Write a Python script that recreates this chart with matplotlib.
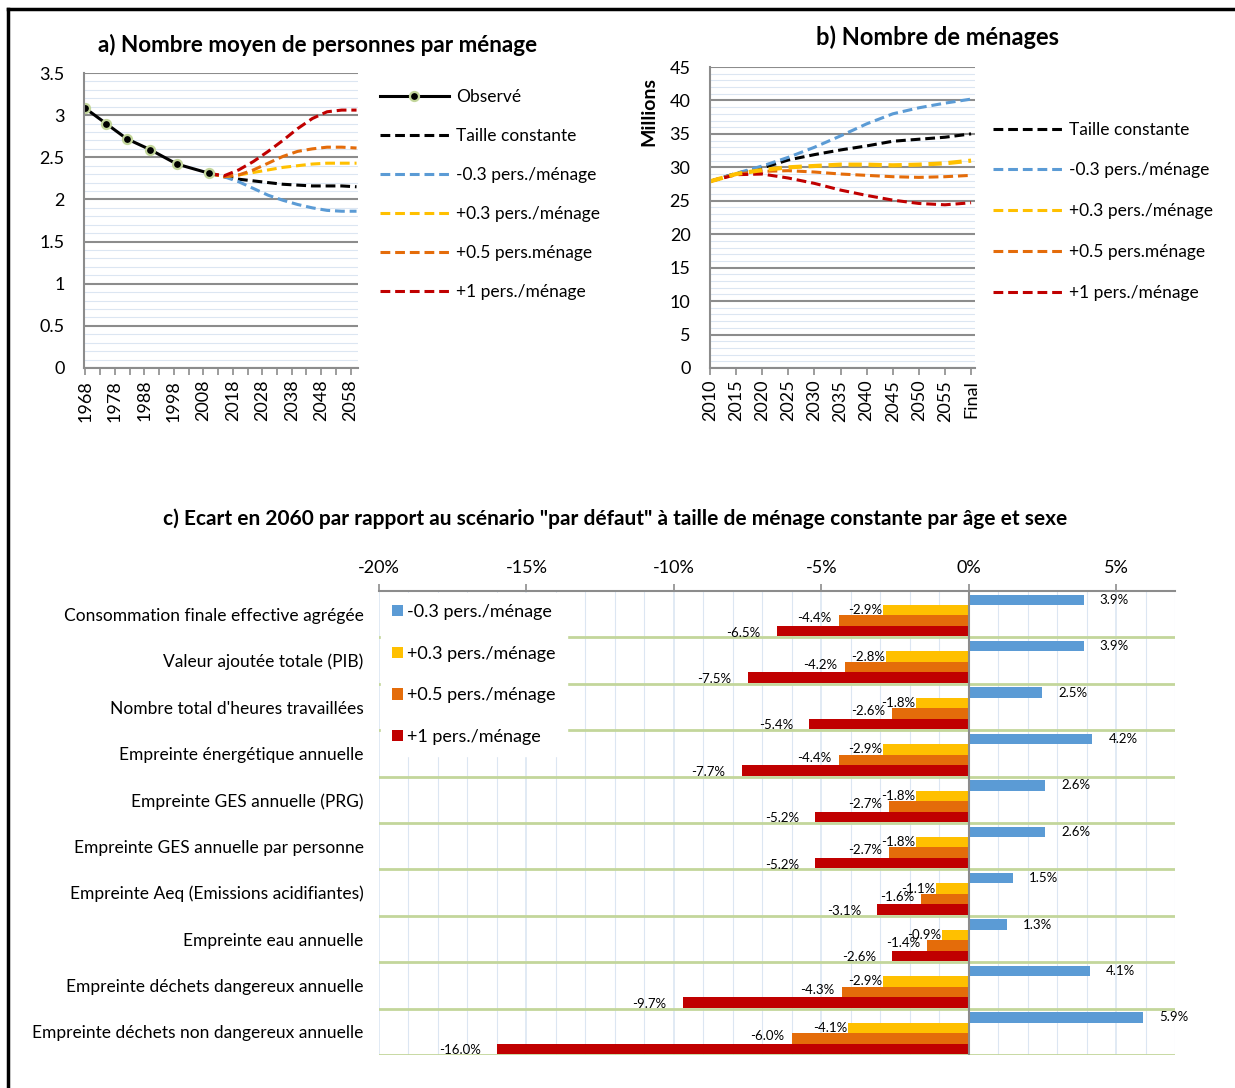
import numpy as np
import matplotlib
matplotlib.use('Agg')
import matplotlib.pyplot as plt
from matplotlib.lines import Line2D
from matplotlib.ticker import MultipleLocator, FuncFormatter

plt.rcParams['font.family'] = ['Lato', 'DejaVu Sans']

W, H = 1235, 1088

# ---- a) nombre moyen de personnes par ménage
obs_years = [1968, 1975, 1982, 1990, 1999, 2010]
obs_values = [3.08, 2.90, 2.72, 2.59, 2.42, 2.31]

proj_years = [2010, 2015, 2020, 2025, 2030, 2035, 2040, 2045, 2050, 2055, 2060]
size_const = [2.31, 2.27, 2.24, 2.22, 2.20, 2.18, 2.17, 2.16, 2.16, 2.16, 2.15]
size_m03 = [2.31, 2.27, 2.21, 2.13, 2.05, 1.99, 1.94, 1.90, 1.87, 1.86, 1.86]
size_p03 = [2.31, 2.27, 2.29, 2.32, 2.35, 2.38, 2.40, 2.42, 2.43, 2.43, 2.43]
size_p05 = [2.31, 2.27, 2.29, 2.35, 2.43, 2.51, 2.57, 2.60, 2.62, 2.62, 2.61]
size_p1 = [2.31, 2.28, 2.35, 2.45, 2.57, 2.70, 2.84, 2.96, 3.04, 3.06, 3.06]

# ---- b) nombre de ménages (millions)
hh_labels = ['2010', '2015', '2020', '2025', '2030', '2035', '2040', '2045', '2050', '2055', 'Final']
hh_const = [27.9, 29.1, 29.9, 31.1, 31.9, 32.6, 33.2, 33.9, 34.2, 34.5, 35.0]
hh_m03 = [27.9, 29.1, 30.2, 31.5, 33.0, 34.7, 36.5, 38.0, 38.9, 39.6, 40.2]
hh_p03 = [27.9, 29.0, 29.6, 30.0, 30.2, 30.4, 30.4, 30.3, 30.4, 30.6, 31.0]
hh_p05 = [27.9, 29.0, 29.4, 29.5, 29.3, 29.0, 28.8, 28.6, 28.5, 28.6, 28.8]
hh_p1 = [27.9, 28.9, 29.0, 28.4, 27.6, 26.6, 25.8, 25.1, 24.6, 24.4, 24.7]

# ---- c) écart en 2060 (%)
categories = ['Consommation finale effective agrégée', 'Valeur ajoutée totale (PIB)',
              "Nombre total d'heures travaillées", 'Empreinte énergétique annuelle',
              'Empreinte GES annuelle (PRG)', 'Empreinte GES annuelle par personne',
              'Empreinte Aeq (Emissions acidifiantes)', 'Empreinte eau annuelle',
              'Empreinte déchets dangereux annuelle', 'Empreinte déchets non dangereux annuelle']
gap_m03 = [3.9, 3.9, 2.5, 4.2, 2.6, 2.6, 1.5, 1.3, 4.1, 5.9]
gap_p03 = [-2.9, -2.8, -1.8, -2.9, -1.8, -1.8, -1.1, -0.9, -2.9, -4.1]
gap_p05 = [-4.4, -4.2, -2.6, -4.4, -2.7, -2.7, -1.6, -1.4, -4.3, -6.0]
gap_p1 = [-6.5, -7.5, -5.4, -7.7, -5.2, -5.2, -3.1, -2.6, -9.7, -16.0]

BLUE = '#5b9bd5'
YELLOW = '#ffc000'
ORANGE = '#e46c0a'
RED = '#c00000'
GRID = '#8c8c8c'
MINOR = '#dce6f2'


def px(l, t, r, b):
    return [l / W, 1 - b / H, (r - l) / W, (b - t) / H]


def style_line_axes(ax):
    for s in ['top', 'right']:
        ax.spines[s].set_visible(False)
    ax.spines['left'].set_color(GRID)
    ax.spines['bottom'].set_color(GRID)
    ax.spines['left'].set_linewidth(1.5)
    ax.spines['bottom'].set_linewidth(1.5)
    ax.grid(which='major', axis='y', color=GRID, linewidth=1.5)
    ax.grid(which='minor', axis='y', color=MINOR, linewidth=0.8)
    ax.set_axisbelow(True)
    ax.tick_params(axis='y', which='both', length=0, labelsize=13, pad=14)
    ax.tick_params(axis='x', which='both', color=GRID, labelsize=13, length=5, width=1.2)


fig = plt.figure(figsize=(W / 100, H / 100), dpi=100)

# frame lines (top + left)
fig.add_artist(Line2D([8 / W, 1], [1 - 9 / H] * 2, color='black', lw=2.5))
fig.add_artist(Line2D([8 / W] * 2, [1 - 9 / H, 0], color='black', lw=2.5))

# ---------------- chart a
ax1 = fig.add_axes(px(84, 73, 358, 368))
dash = (0, (3.2, 1.6))
ax1.plot(proj_years, size_const, color='black', lw=2.2, ls=dash)
ax1.plot(proj_years, size_m03, color=BLUE, lw=2.2, ls=dash)
ax1.plot(proj_years, size_p03, color=YELLOW, lw=2.2, ls=dash)
ax1.plot(proj_years, size_p05, color=ORANGE, lw=2.2, ls=dash)
ax1.plot(proj_years, size_p1, color=RED, lw=2.2, ls=dash)
ax1.plot(obs_years, obs_values, color='black', lw=2.2, marker='o', ms=6.5,
         mfc='black', mec='#c3d69b', mew=1.6)
ax1.set_xlim(1967.5, 2060.5)
ax1.set_ylim(0, 3.5)
ax1.yaxis.set_minor_locator(MultipleLocator(0.1))
ax1.set_yticks([0, 0.5, 1, 1.5, 2, 2.5, 3, 3.5])
ax1.set_yticklabels(['0', '0.5', '1', '1.5', '2', '2.5', '3', '3.5'])
ax1.set_xticks(range(1968, 2059, 10))
ax1.set_xticks(range(1968, 2061, 5), minor=True)
ax1.set_xticklabels([str(y) for y in range(1968, 2059, 10)], rotation=90)
style_line_axes(ax1)
fig.text(318 / W, 1 - 45 / H, 'a) Nombre moyen de personnes par ménage', ha='center',
         va='center', fontsize=16.2, fontweight='bold')

leg_a = [Line2D([], [], color='black', lw=2.2, marker='o', ms=6.5, mfc='black', mec='#c3d69b', mew=1.6),
         Line2D([], [], color='black', lw=2.2, ls=dash),
         Line2D([], [], color=BLUE, lw=2.2, ls=dash),
         Line2D([], [], color=YELLOW, lw=2.2, ls=dash),
         Line2D([], [], color=ORANGE, lw=2.2, ls=dash),
         Line2D([], [], color=RED, lw=2.2, ls=dash)]
fig.legend(leg_a, ['Observé', 'Taille constante', '-0.3 pers./ménage', '+0.3 pers./ménage',
                   '+0.5 pers.ménage', '+1 pers./ménage'],
           loc='upper left', bbox_to_anchor=(364 / W, 1 - 73 / H), frameon=False,
           fontsize=12.5, handlelength=4.0, handletextpad=0.4, labelspacing=1.33)

# ---------------- chart b
ax2 = fig.add_axes(px(710, 67, 975, 368))
xb = np.arange(len(hh_labels))
ax2.plot(xb, hh_const, color='black', lw=2.2, ls=dash)
ax2.plot(xb, hh_m03, color=BLUE, lw=2.2, ls=dash)
ax2.plot(xb, hh_p05, color=ORANGE, lw=2.2, ls=dash)
ax2.plot(xb, hh_p1, color=RED, lw=2.2, ls=dash)
ax2.plot(xb, hh_p03, color=YELLOW, lw=3.0, ls=dash)
ax2.set_xlim(0, len(hh_labels) - 1 + 0.15)
ax2.set_ylim(0, 45)
ax2.yaxis.set_major_locator(MultipleLocator(5))
ax2.yaxis.set_minor_locator(MultipleLocator(1))
ax2.set_xticks(xb)
ax2.set_xticklabels(hh_labels, rotation=90)
style_line_axes(ax2)
fig.text(649 / W, 1 - 111 / H, 'Millions', rotation=90, ha='center', va='center',
         fontsize=14, fontweight='bold')
fig.text(938 / W, 1 - 37 / H, 'b) Nombre de ménages', ha='center', va='center',
         fontsize=17, fontweight='bold')
fig.legend(leg_a[1:], ['Taille constante', '-0.3 pers./ménage', '+0.3 pers./ménage',
                       '+0.5 pers.ménage', '+1 pers./ménage'],
           loc='upper left', bbox_to_anchor=(977 / W, 1 - 106 / H), frameon=False,
           fontsize=12.5, handlelength=4.0, handletextpad=0.4, labelspacing=1.43)

# ---------------- chart c
ax3 = fig.add_axes(px(379, 591, 1175, 1055))
y = np.arange(len(categories))
h = 0.225
# values, colour, bar offset, label x-gap (%), label y-shift
series = [(gap_m03, BLUE, -0.31, 0.55, 0.0, '-0.3 pers./ménage'),
          (gap_p03, YELLOW, -0.085, 0.02, 0.0, '+0.3 pers./ménage'),
          (gap_p05, ORANGE, 0.14, 0.24, -0.05, '+0.5 pers./ménage'),
          (gap_p1, RED, 0.365, 0.55, 0.03, '+1 pers./ménage')]
handles = []
for vals, col, off, gx, gy, lab in series:
    b = ax3.barh(y + off, vals, height=h, color=col, label=lab, zorder=3)
    handles.append(b)
    for yy, v in zip(y + off, vals):
        if v > 0:
            ax3.text(v + gx, yy + gy, f'{v:.1f}%', ha='left', va='center', fontsize=9.5, zorder=6)
        else:
            ax3.text(v - gx, yy + gy, f'{v:.1f}%', ha='right', va='center', fontsize=9.5, zorder=6)

ax3.set_xlim(-20, 7)
ax3.set_ylim(9.5, -0.5)
ax3.xaxis.tick_top()
ax3.set_xticks([-20, -15, -10, -5, 0, 5])
ax3.xaxis.set_major_formatter(FuncFormatter(lambda v, p: f'{v:.0f}%'))
ax3.xaxis.set_minor_locator(MultipleLocator(1))
ax3.tick_params(axis='x', which='major', labelsize=13, color=GRID, length=5, width=1.2, pad=6)
ax3.tick_params(axis='x', which='minor', length=0)
ax3.grid(which='minor', axis='x', color=MINOR, linewidth=0.8, zorder=0)
ax3.grid(which='major', axis='x', color=MINOR, linewidth=1.2, zorder=0)
for s in ['right', 'bottom', 'left']:
    ax3.spines[s].set_visible(False)
ax3.spines['top'].set_color(GRID)
ax3.spines['top'].set_linewidth(1.5)
ax3.set_yticks(y)
ax3.set_yticklabels(categories)
ax3.tick_params(axis='y', length=0, labelsize=12.5, pad=11)
for edge in np.arange(0.5, len(categories), 1.0):
    ax3.axhline(edge, color='#c3d69b', lw=2, zorder=1)
ax3.axvline(0, color=GRID, lw=1.5, zorder=4)
ax3.set_axisbelow(True)
leg = ax3.legend(handles=handles, loc='upper left', bbox_to_anchor=(0.0, 1.0),
                 fontsize=13, frameon=True, fancybox=False, edgecolor='white',
                 framealpha=1, handlelength=0.6, handleheight=0.6, handletextpad=0.25,
                 labelspacing=1.42, borderpad=0.62, borderaxespad=0.1)
leg.set_zorder(5)
fig.text(615 / W, 1 - 519 / H,
         'c) Ecart en 2060 par rapport au scénario "par défaut" à taille de ménage constante par âge et sexe',
         ha='center', va='center', fontsize=15, fontweight='bold')

fig.savefig('out.png', dpi=100)
